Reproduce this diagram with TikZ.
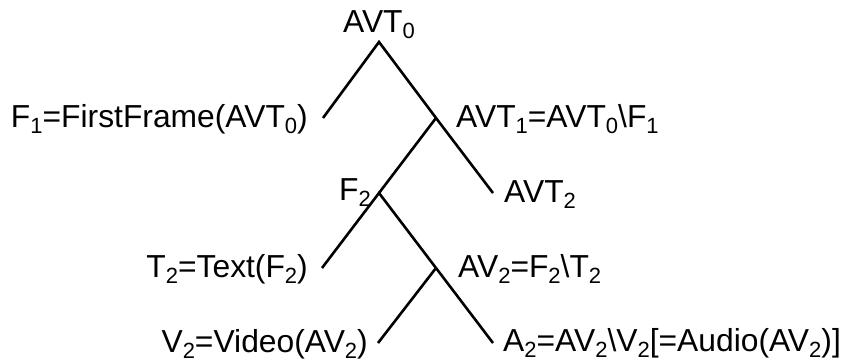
\documentclass[tikz,border=0pt]{standalone}
\usepackage{fontspec}
\setmainfont{Liberation Sans}
\newcommand\sbs[1]{\raisebox{-5.5pt}{\fontsize{22}{22}\selectfont #1}}
\begin{document}
\begin{tikzpicture}[x=1pt,y=-1pt,
  edge/.style={line width=2.6pt, black},
  lbl/.style={inner sep=0pt, font=\fontsize{31.8}{36}\selectfont}]
\useasboundingbox (0,0) rectangle (844,363);
% tree points
\coordinate (r) at (379,42);
\coordinate (f1e) at (323,118);
\coordinate (a1) at (436,118);
\coordinate (f2) at (379,193);
\coordinate (a2e) at (493,193);
\coordinate (t2e) at (322,268);
\coordinate (av2) at (436,268);
\coordinate (v2e) at (378,343);
\coordinate (ae) at (493,343);
% labels
\node[lbl, anchor=base] (tAVT0) at (379,33) {AVT\sbs{0}};
\node[lbl, anchor=base east] (tF1) at (308,128) {F\sbs{1}=FirstFrame(AVT\sbs{0})};
\node[lbl, anchor=base west] (tAVT1) at (456,128) {AVT\sbs{1}=AVT\sbs{0}\textbackslash F\sbs{1}};
\node[lbl, anchor=base east] (tF2) at (371,201) {F\sbs{2}};
\node[lbl, anchor=base west] (tAVT2) at (504,203) {AVT\sbs{2}};
\node[lbl, anchor=base east] (tT2) at (308,278) {T\sbs{2}=Text(F\sbs{2})};
\node[lbl, anchor=base west] (tAV2) at (458,278) {AV\sbs{2}=F\sbs{2}\textbackslash T\sbs{2}};
\node[lbl, anchor=base east] (tV2) at (368,353) {V\sbs{2}=Video(AV\sbs{2})};
\node[lbl, anchor=base west] (tA2) at (503,352) {A\sbs{2}=AV\sbs{2}\textbackslash V\sbs{2}[=Audio(AV\sbs{2})]};
% edges
\draw[edge] (f1e) -- (r) -- (a1) -- (a2e);
\draw[edge] (a1) -- (f2);
\draw[edge] (t2e) -- (f2) -- (av2) -- (ae);
\draw[edge] (av2) -- (v2e);
\end{tikzpicture}
\end{document}
